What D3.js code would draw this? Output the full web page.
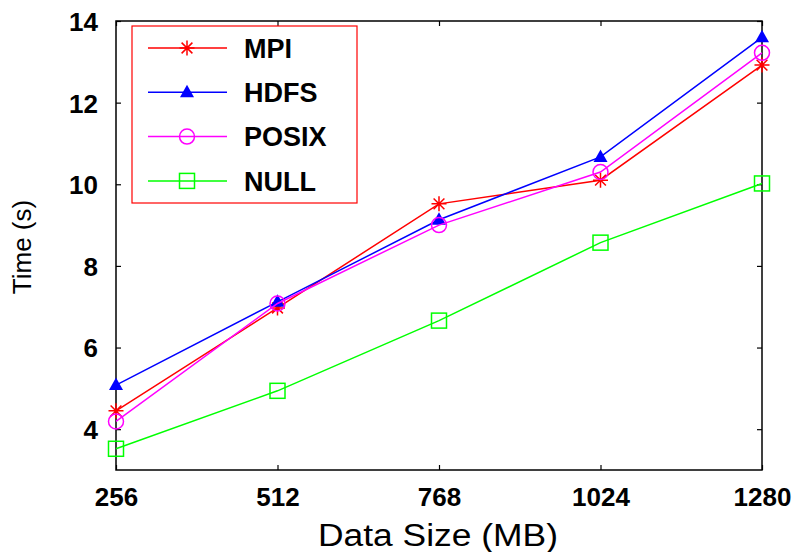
<!DOCTYPE html>
<html>
<head>
<meta charset="utf-8">
<script src="https://cdn.jsdelivr.net/npm/d3@7"></script>
<style>
  body { margin: 0; background: white; }
  svg { display: block; }
</style>
</head>
<body>
<svg id="chart" width="796" height="552"></svg>
<script>
const sizes = [256, 512, 768, 1024, 1280];
const xTicks = [256, 512, 768, 1024, 1280];
const yTicks = [4, 6, 8, 10, 12, 14];

const mpi   = [4.45, 6.97, 9.52, 10.1, 12.92];
const hdfs  = [5.08, 7.12, 9.13, 10.67, 13.6];
const posix = [4.19, 7.08, 9.0, 10.3, 13.22];
const nullv = [3.52, 4.94, 6.66, 8.57, 10.02];

const seriesNames = ["MPI", "HDFS", "POSIX", "NULL"];
const seriesValues = [mpi, hdfs, posix, nullv];
const seriesColors = ["#ff0000", "#0000ff", "#ff00ff", "#00ff00"];
const seriesMarks = ["star", "triangle", "circle", "square"];

const plot = {"left": 116, "right": 762, "top": 21, "bottom": 470};

const svg = d3.select("#chart");

const x = d3.scaleLinear().domain([256, 1280]).range([plot.left, plot.right]);
const y = d3.scaleLinear().domain([3, 14]).range([plot.bottom, plot.top]);

// axes, ticks pointing inward on all four sides
const tickLen = 5;
const bottomAxis = svg.append("g")
  .attr("transform", `translate(0,${plot.bottom})`)
  .call(d3.axisBottom(x).tickValues(xTicks).tickFormat(d3.format("d"))
    .tickSizeInner(-tickLen).tickSizeOuter(0).tickPadding(18));
const leftAxis = svg.append("g")
  .attr("transform", `translate(${plot.left},0)`)
  .call(d3.axisLeft(y).tickValues(yTicks).tickFormat(d3.format("d"))
    .tickSizeInner(-tickLen).tickSizeOuter(0).tickPadding(18));
svg.append("g")
  .attr("transform", `translate(0,${plot.top})`)
  .call(d3.axisTop(x).tickValues(xTicks).tickSizeInner(-tickLen).tickSizeOuter(0).tickFormat(""));
svg.append("g")
  .attr("transform", `translate(${plot.right},0)`)
  .call(d3.axisRight(y).tickValues(yTicks).tickSizeInner(-tickLen).tickSizeOuter(0).tickFormat(""));

svg.selectAll(".domain").remove();
svg.selectAll(".tick line").attr("stroke", "black").attr("stroke-width", 1.2);

bottomAxis.selectAll("text")
  .attr("font-family", "Liberation Sans, Arial, sans-serif")
  .attr("font-weight", "bold")
  .attr("font-size", 26)
  .attr("fill", "black")
  .attr("dy", "0.71em");
leftAxis.selectAll("text")
  .attr("font-family", "Liberation Sans, Arial, sans-serif")
  .attr("font-weight", "bold")
  .attr("font-size", 26)
  .attr("fill", "black")
  .attr("dy", "0.36em");

// frame
svg.append("rect")
  .attr("x", plot.left)
  .attr("y", plot.top)
  .attr("width", plot.right - plot.left)
  .attr("height", plot.bottom - plot.top)
  .attr("fill", "none")
  .attr("stroke", "black")
  .attr("stroke-width", 1.5);

// axis titles
svg.append("text")
  .attr("x", 438)
  .attr("y", 546)
  .attr("text-anchor", "middle")
  .attr("font-family", "Liberation Sans, Arial, sans-serif")
  .attr("font-size", 31)
  .attr("textLength", 240)
  .attr("lengthAdjust", "spacingAndGlyphs")
  .text("Data Size (MB)");
svg.append("text")
  .attr("transform", "translate(31,247) rotate(-90)")
  .attr("text-anchor", "middle")
  .attr("font-family", "Liberation Sans, Arial, sans-serif")
  .attr("font-size", 26)
  .text("Time (s)");

function drawMark(g, kind, cx, cy, color){
  const r = 7.5;
  if(kind == "star"){
    const d = r * 0.72;
    g.append("path")
      .attr("d", `M${cx - r},${cy}L${cx + r},${cy}M${cx},${cy - r}L${cx},${cy + r}` +
                 `M${cx - d},${cy - d}L${cx + d},${cy + d}M${cx - d},${cy + d}L${cx + d},${cy - d}`)
      .attr("stroke", color)
      .attr("stroke-width", 1.5)
      .attr("fill", "none");
  } else if(kind == "triangle"){
    g.append("path")
      .attr("d", `M${cx},${cy - 7.5}L${cx + 7},${cy + 5}L${cx - 7},${cy + 5}Z`)
      .attr("fill", color);
  } else if(kind == "circle"){
    g.append("circle")
      .attr("cx", cx).attr("cy", cy).attr("r", r)
      .attr("fill", "none")
      .attr("stroke", color)
      .attr("stroke-width", 1.5);
  } else {
    g.append("rect")
      .attr("x", cx - r).attr("y", cy - r)
      .attr("width", 2 * r).attr("height", 2 * r)
      .attr("fill", "none")
      .attr("stroke", color)
      .attr("stroke-width", 1.5);
  }
}

const line = d3.line()
  .x((d) => x(d[0]))
  .y((d) => y(d[1]));

seriesValues.forEach((vals, i) => {
  const pts = sizes.map((s, j) => [s, vals[j]]);
  const g = svg.append("g");
  g.append("path")
    .attr("d", line(pts))
    .attr("fill", "none")
    .attr("stroke", seriesColors[i])
    .attr("stroke-width", 1.5);
  pts.forEach((p) => drawMark(g, seriesMarks[i], x(p[0]), y(p[1]), seriesColors[i]));
});

// legend
const legend = svg.append("g");
legend.append("rect")
  .attr("x", 132)
  .attr("y", 26)
  .attr("width", 225)
  .attr("height", 177)
  .attr("fill", "white")
  .attr("stroke", "#ff0000")
  .attr("stroke-width", 1.2);

seriesNames.forEach((n, i) => {
  const ly = 48 + i * 44.3;
  legend.append("line")
    .attr("x1", 148).attr("x2", 227)
    .attr("y1", ly).attr("y2", ly)
    .attr("stroke", seriesColors[i])
    .attr("stroke-width", 1.5);
  drawMark(legend, seriesMarks[i], 187, ly, seriesColors[i]);
  legend.append("text")
    .attr("x", 244)
    .attr("y", ly)
    .attr("dy", "0.36em")
    .attr("font-family", "Liberation Sans, Arial, sans-serif")
    .attr("font-weight", "bold")
    .attr("font-size", 27)
    .text(n);
});
</script>
</body>
</html>
